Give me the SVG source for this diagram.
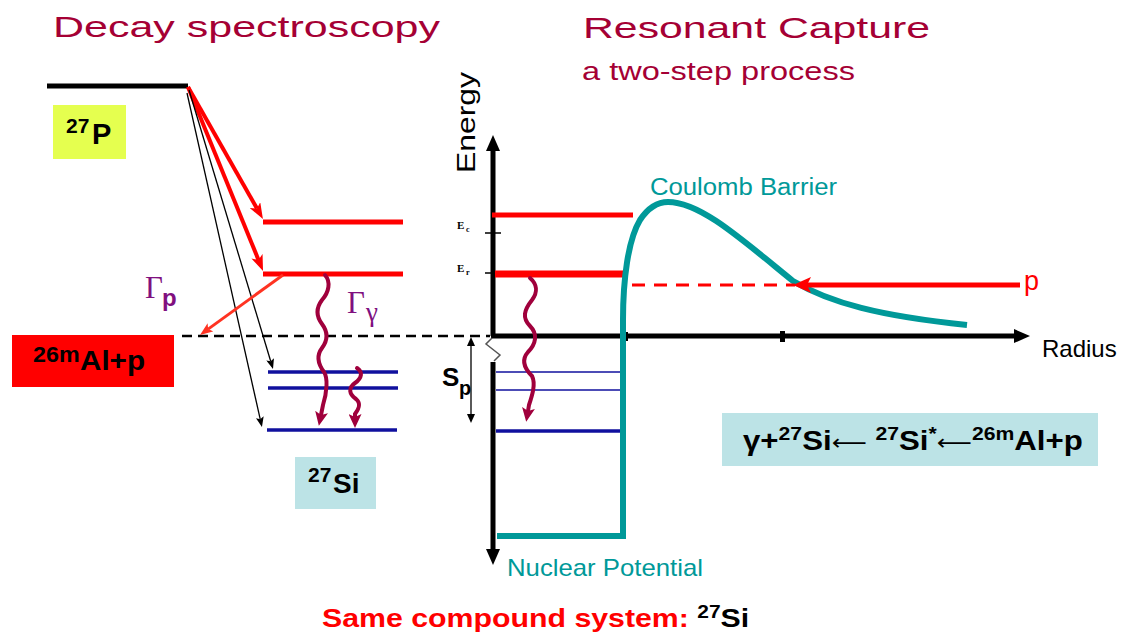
<svg xmlns="http://www.w3.org/2000/svg" width="1123" height="633" viewBox="0 0 1123 633">
<style>
.s{font-family:"Liberation Sans",Arial,sans-serif}
.b{font-weight:bold}
.r{font-family:"Liberation Serif","Times New Roman",serif}
.ar{font-family:"DejaVu Sans",sans-serif;font-weight:normal}
.tt{fill:#a50034}
.teal{fill:#009999}
.gp{fill:#80107f}
.wave{fill:none;stroke:#a0003c;stroke-width:4;stroke-linecap:round}
.blue{stroke:#10109e}
.red{stroke:#ff0000}
</style>
<defs>
<marker id="mRed" markerUnits="userSpaceOnUse" markerWidth="16" markerHeight="12" refX="4" refY="6" orient="auto"><path d="M0,0 L16,6 L0,12 L4,6 z" fill="#ff0000"/></marker>
<marker id="mBlk" markerUnits="userSpaceOnUse" markerWidth="10" markerHeight="8" refX="2" refY="4" orient="auto"><path d="M0,0 L10,4 L0,8 L2,4 z" fill="#000"/></marker>
<marker id="mOr" markerUnits="userSpaceOnUse" markerWidth="13" markerHeight="10" refX="3" refY="5" orient="auto"><path d="M0,0 L13,5 L0,10 L3,5 z" fill="#ff3322"/></marker>
<marker id="mAx" markerUnits="userSpaceOnUse" markerWidth="16" markerHeight="14" refX="0" refY="7" orient="auto"><path d="M0,0 L16,7 L0,14 z" fill="#000"/></marker>
<marker id="mP" markerUnits="userSpaceOnUse" markerWidth="18" markerHeight="16" refX="4" refY="8" orient="auto"><path d="M0,0 L18,8 L0,16 L4,8 z" fill="#ff0000"/></marker>
<marker id="mW" markerUnits="userSpaceOnUse" markerWidth="14" markerHeight="13" refX="3" refY="6.5" orient="auto"><path d="M0,0 L14,6.5 L0,13 L3,6.5 z" fill="#a0003c"/></marker>
<marker id="mSp" markerUnits="userSpaceOnUse" markerWidth="9" markerHeight="8" refX="0" refY="4" orient="auto-start-reverse"><path d="M0,0 L9,4 L0,8 z" fill="#000"/></marker>
</defs>
<rect width="1123" height="633" fill="#fff"/>

<g id="title-decay">
<text class="s tt" x="53" y="37" font-size="30" textLength="387" lengthAdjust="spacingAndGlyphs">Decay spectroscopy</text>
</g>
<g id="title-capture">
<text class="s tt" x="583" y="38" font-size="29" textLength="347" lengthAdjust="spacingAndGlyphs">Resonant Capture</text>
<text class="s tt" x="582" y="80" font-size="25" textLength="273" lengthAdjust="spacingAndGlyphs">a two-step process</text>
</g>

<g id="level-27P">
<line x1="47" y1="86" x2="188" y2="86" stroke="#000" stroke-width="5"/>
</g>
<g id="label-27P">
<rect x="53" y="105" width="73" height="54" fill="#e5ff4f"/>
<text class="s b" font-size="29"><tspan x="66" y="133" font-size="21">27</tspan><tspan x="92" y="144">P</tspan></text>
</g>
<g id="levels-27Si-excited">
<line x1="263" y1="222" x2="403" y2="222" class="red" stroke-width="5"/>
<line x1="263" y1="274" x2="403" y2="274" class="red" stroke-width="5"/>
</g>
<g id="levels-27Si-bound">
<line x1="268" y1="372" x2="398" y2="372" class="blue" stroke-width="3.5"/>
<line x1="268" y1="388" x2="398" y2="388" class="blue" stroke-width="3.5"/>
<line x1="267" y1="430" x2="397" y2="430" class="blue" stroke-width="3.5"/>
</g>
<g id="threshold">
<line x1="182" y1="336" x2="490" y2="336" stroke="#000" stroke-width="2.5" stroke-dasharray="10 6"/>
</g>
<g id="label-26mAl">
<rect x="12" y="335" width="162" height="52" fill="#ff0000"/>
<text class="s b" transform="translate(33,370) scale(1.06,1)" font-size="28"><tspan x="0" y="-8" font-size="22">26m</tspan><tspan x="44.3" y="0">Al+p</tspan></text>
</g>
<g id="label-27Si">
<rect x="295" y="457" width="81" height="52" fill="#bce3e6"/>
<text class="s b" font-size="28"><tspan x="308" y="482" font-size="21">27</tspan><tspan x="333" y="493">Si</tspan></text>
</g>
<g id="label-gamma-p">
<text class="r gp" x="145" y="298" font-size="31">Γ</text>
<text class="s b gp" x="162" y="306" font-size="24">p</text>
</g>
<g id="label-gamma-gamma">
<text class="r gp" x="347" y="313" font-size="31">Γ</text>
<text class="r gp" x="366" y="321" font-size="27">γ</text>
</g>

<g id="axes">
<line x1="493" y1="336" x2="493" y2="151" stroke="#000" stroke-width="5" marker-end="url(#mAx)"/>
<line x1="493" y1="362" x2="493" y2="549" stroke="#000" stroke-width="5" marker-end="url(#mAx)"/>
<line x1="491" y1="336" x2="1014" y2="336" stroke="#000" stroke-width="5" marker-end="url(#mAx)"/>
<rect x="620" y="332" width="8" height="9" fill="#000"/>
<rect x="780" y="331" width="5" height="11" fill="#000"/>
<line x1="485" y1="233" x2="501" y2="233" stroke="#000" stroke-width="1.5"/>
<line x1="485" y1="273" x2="501" y2="273" stroke="#000" stroke-width="1.5"/>
<polyline points="492,338 486,344 500,355 494,361" fill="none" stroke="#555" stroke-width="1.5"/>
</g>
<g id="levels-right">
<line x1="492" y1="215" x2="633" y2="215" class="red" stroke-width="5"/>
<line x1="495" y1="274" x2="624" y2="274" class="red" stroke-width="7"/>
<line x1="496" y1="372" x2="623" y2="372" class="blue" stroke-width="1.5"/>
<line x1="496" y1="390" x2="623" y2="390" class="blue" stroke-width="1.5"/>
<line x1="496" y1="431" x2="623" y2="431" class="blue" stroke-width="3.5"/>
</g>
<g id="potential">
<path d="M497,536 H623 V320 C623,280 628,240 640,220 C648,208 657,202 668,202 C700,202 740,238 793,281 C830,303 880,316 967,325" fill="none" stroke="#009999" stroke-width="6"/>
</g>
<g id="labels-right">
<text class="s" transform="translate(475,173) rotate(-90)" font-size="25" textLength="101" lengthAdjust="spacingAndGlyphs">Energy</text>
<text class="s" x="1042" y="357" font-size="24">Radius</text>
<text class="s" x="1024" y="290" font-size="27" fill="#ff0000">p</text>
<text class="s teal" x="650" y="195" font-size="23" textLength="187" lengthAdjust="spacingAndGlyphs">Coulomb Barrier</text>
<text class="s teal" x="507" y="576" font-size="24" textLength="196" lengthAdjust="spacingAndGlyphs">Nuclear Potential</text>
<text class="r b" font-size="11"><tspan x="457" y="229">E</tspan><tspan x="466" y="232" font-size="8">c</tspan></text>
<text class="r b" font-size="11"><tspan x="457" y="272">E</tspan><tspan x="466" y="275" font-size="8">r</tspan></text>
<text class="s b" font-size="26"><tspan x="442" y="386">S</tspan><tspan x="459" y="395" font-size="20">p</tspan></text>
</g>
<g id="reaction-box">
<rect x="722" y="413" width="376" height="53" fill="#bce3e6"/>
<text class="s b" transform="translate(743,450) scale(1.115,1)" font-size="28">γ+<tspan font-size="19" dy="-10">27</tspan><tspan dy="10">Si</tspan><tspan class="ar" font-size="22">⟵</tspan> <tspan font-size="19" dy="-10">27</tspan><tspan dy="10">Si</tspan><tspan font-size="19" dy="-10">*</tspan><tspan class="ar" font-size="22" dy="10">⟵</tspan><tspan font-size="19" dy="-10">26m</tspan><tspan dy="10">Al+p</tspan></text>
</g>
<g id="footer">
<text class="s b" transform="translate(322,627) scale(1.165,1)" font-size="26"><tspan fill="#ff0000">Same compound system: </tspan><tspan font-size="18" dy="-9">27</tspan><tspan dy="9">Si</tspan></text>
</g>

<g id="connectors">
<line x1="188" y1="87" x2="257" y2="208.6" stroke="#ff0000" stroke-width="4" marker-end="url(#mRed)"/>
<line x1="188" y1="87" x2="258.5" y2="259.9" stroke="#ff0000" stroke-width="4" marker-end="url(#mRed)"/>
<line x1="189" y1="90" x2="270.7" y2="361.3" stroke="#000" stroke-width="1.3" marker-end="url(#mBlk)"/>
<line x1="187" y1="93" x2="260.2" y2="419.2" stroke="#000" stroke-width="1.3" marker-end="url(#mBlk)"/>
<line x1="283" y1="275" x2="208.1" y2="329.1" stroke="#ff3322" stroke-width="3" marker-end="url(#mOr)"/>
<path class="wave" d="M325,275 C331,282 329,292 322,300 C316,308 316,316 322,324 C328,332 328,340 322,348 C316,356 318,364 324,372 C328,378 327,392 323,405 L321,415" marker-end="url(#mW)"/>
<path class="wave" d="M357,368 C363,372 362,378 355,383 C348,388 349,394 356,399 C362,404 358,410 355,414 L355,417" marker-end="url(#mW)"/>
<path class="wave" d="M530,278 C537,284 538,292 532,300 C524,310 522,318 530,326 C538,334 536,344 528,352 C521,360 524,368 532,376 C536,384 532,396 529,405 L528,411" marker-end="url(#mW)"/>
<line x1="632" y1="285" x2="795" y2="285" stroke="#ff0000" stroke-width="3" stroke-dasharray="13 9"/>
<line x1="1020" y1="285" x2="807" y2="285" stroke="#ff0000" stroke-width="5" marker-end="url(#mP)"/>
<line x1="471" y1="346" x2="471" y2="414" stroke="#000" stroke-width="1.3" marker-start="url(#mSp)" marker-end="url(#mSp)"/>
</g>
</svg>
